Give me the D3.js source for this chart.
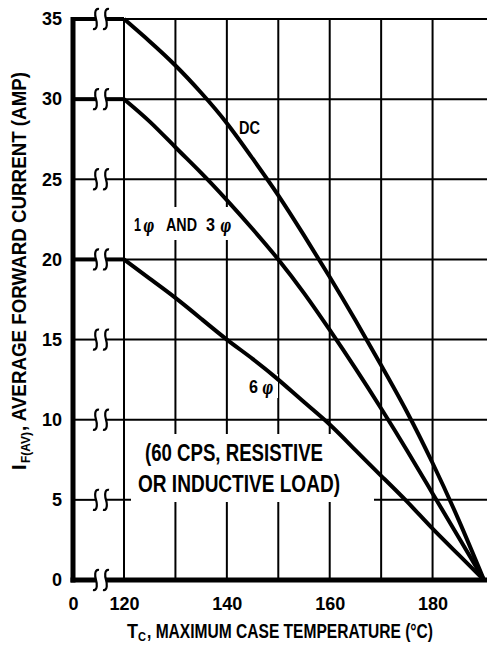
<!DOCTYPE html>
<html>
<head>
<meta charset="utf-8">
<script src="https://cdn.jsdelivr.net/npm/d3@7"></script>
<style>
  body { margin: 0; background: #fff; }
  text { font-family: "Liberation Sans", Arial, sans-serif; font-weight: bold; fill: #000; }
  .phi { font-family: "DejaVu Serif", serif; font-style: italic; }
</style>
</head>
<body>
<div id="chart"></div>
<script>
// case temperature (deg C) and max average forward current (amp)
var temps = [120, 125, 130, 135, 140, 145, 150, 155, 160, 165, 170, 175, 180, 185, 190];
var dcCurrent = [35, 33.6, 32.1, 30.4, 28.5, 26.3, 24.0, 21.5, 18.9, 16.2, 13.4, 10.5, 7.3, 3.8, 0];
var phase13Current = [30, 28.6, 27.0, 25.4, 23.7, 21.9, 20.0, 17.9, 15.6, 13.2, 10.7, 8.1, 5.4, 2.7, 0];
var phase6Current = [20, 18.8, 17.6, 16.3, 15.0, 13.8, 12.5, 11.1, 9.7, 8.1, 6.5, 4.9, 3.2, 1.6, 0];

var xTickValues = [0, 120, 140, 160, 180];
var yTickValues = [0, 5, 10, 15, 20, 25, 30, 35];
var gridTemps = [120, 130, 140, 150, 160, 170, 180];

var svgWidth = 487;
var svgHeight = 645;

var svg = d3.select("#chart")
  .append("svg")
  .attr("width", svgWidth)
  .attr("height", svgHeight);

// x axis is broken between 0 and 120
var x = d3.scaleLinear()
  .domain([0, 120, 190])
  .range([73, 124, 484]);

var y = d3.scaleLinear()
  .domain([0, 35])
  .range([580, 19]);

var breakA = x(0) + 23;
var breakB = x(0) + 33;

function squiggle(cx, cy) {
  return "M" + (cx + 3) + "," + (cy - 10) +
    " C" + (cx - 2) + "," + (cy - 11) + " " + (cx - 1) + "," + (cy - 3) + " " + cx + "," + cy +
    " C" + (cx + 1) + "," + (cy + 3) + " " + (cx + 2) + "," + (cy + 11) + " " + (cx - 3) + "," + (cy + 10);
}

// small helper for squeezed text
function label(px, py, str, size, len, cls) {
  var t = svg.append("text")
    .attr("x", px).attr("y", py)
    .style("font-size", size + "px")
    .text(str);
  if (len) t.attr("textLength", len).attr("lengthAdjust", "spacingAndGlyphs");
  if (cls) t.attr("class", cls);
  return t;
}

// horizontal grid lines, broken near the left axis
var hGrid = svg.append("g");
yTickValues.filter(d => d > 0).forEach(function(v) {
  hGrid.append("line")
    .attr("x1", x(0)).attr("x2", breakA)
    .attr("y1", y(v)).attr("y2", y(v))
    .attr("stroke", "#000").attr("stroke-width", 2);
  hGrid.append("line")
    .attr("x1", breakB).attr("x2", svgWidth)
    .attr("y1", y(v)).attr("y2", y(v))
    .attr("stroke", "#000").attr("stroke-width", 2);
});

// vertical grid lines
svg.append("g").selectAll("line")
  .data(gridTemps)
  .enter()
  .append("line")
  .attr("x1", d => x(d)).attr("x2", d => x(d))
  .attr("y1", y(35)).attr("y2", y(0))
  .attr("stroke", "#000")
  .attr("stroke-width", 2);

// white boxes behind the notes
svg.append("rect").attr("x", 131).attr("y", 207).attr("width", 108).attr("height", 33).attr("fill", "#fff");
svg.append("rect").attr("x", 131).attr("y", 434).attr("width", 243).attr("height", 68).attr("fill", "#fff");
svg.append("rect").attr("x", 246).attr("y", 374).attr("width", 32).attr("height", 24).attr("fill", "#fff");

// flat parts of the curves from 0 to 120
[35, 30, 20].forEach(function(v) {
  svg.append("line")
    .attr("x1", x(0)).attr("x2", breakA)
    .attr("y1", y(v)).attr("y2", y(v))
    .attr("stroke", "#000").attr("stroke-width", 4);
  svg.append("line")
    .attr("x1", breakB).attr("x2", x(120))
    .attr("y1", y(v)).attr("y2", y(v))
    .attr("stroke", "#000").attr("stroke-width", 4);
});

// derating curves
var line = d3.line()
  .x((d, i) => x(temps[i]))
  .y(d => y(d))
  .curve(d3.curveNatural);

[dcCurrent, phase13Current, phase6Current].forEach(function(series) {
  svg.append("path")
    .attr("d", line(series))
    .attr("fill", "none")
    .attr("stroke", "#000")
    .attr("stroke-width", 4)
    .attr("stroke-linejoin", "round");
});

// axes lines
svg.append("line")
  .attr("x1", x(0)).attr("x2", x(0))
  .attr("y1", y(35) - 2).attr("y2", y(0) + 2.5)
  .attr("stroke", "#000").attr("stroke-width", 5);
svg.append("line")
  .attr("x1", x(0) - 2.5).attr("x2", breakA)
  .attr("y1", y(0)).attr("y2", y(0))
  .attr("stroke", "#000").attr("stroke-width", 5);
svg.append("line")
  .attr("x1", breakB).attr("x2", svgWidth)
  .attr("y1", y(0)).attr("y2", y(0))
  .attr("stroke", "#000").attr("stroke-width", 5);

// break marks
var breaks = svg.append("g");
yTickValues.forEach(function(v) {
  breaks.append("path").attr("d", squiggle(breakA, y(v)))
    .attr("fill", "none").attr("stroke", "#000").attr("stroke-width", 2.2);
  breaks.append("path").attr("d", squiggle(breakB, y(v)))
    .attr("fill", "none").attr("stroke", "#000").attr("stroke-width", 2.2);
});

// tick labels
var yAxis = svg.append("g")
  .attr("transform", `translate(${x(0)}, 0)`)
  .call(d3.axisLeft(y).tickValues(yTickValues).tickSize(0).tickPadding(11));
yAxis.select(".domain").remove();
yAxis.selectAll("text")
  .style("font-family", "Liberation Sans, Arial, sans-serif")
  .style("font-size", "18px")
  .style("font-weight", "bold")
  .attr("fill", "#000");

var xAxis = svg.append("g")
  .attr("transform", `translate(0, ${y(0)})`)
  .call(d3.axisBottom(x).tickValues(xTickValues).tickSize(0).tickPadding(17));
xAxis.select(".domain").remove();
xAxis.selectAll("text")
  .style("font-family", "Liberation Sans, Arial, sans-serif")
  .style("font-size", "18px")
  .style("font-weight", "bold")
  .attr("fill", "#000");

// curve labels
label(239, 134, "DC", 18, 21);

label(134, 231, "1", 18, 7);
label(143, 232, "\u03c6", 18, 11, "phi");
label(166, 231, "AND", 18, 31);
label(206, 231, "3", 18, 9);
label(220, 232, "\u03c6", 18, 11, "phi");

label(249, 393, "6", 18, 9);
label(262, 394, "\u03c6", 18, 11, "phi");

// note
label(145, 461, "(60 CPS, RESISTIVE", 23, 178);
label(138, 492, "OR INDUCTIVE LOAD)", 23, 202);

// axis titles
label(127, 638, "T", 20, 11);
label(138, 641, "C", 12, 8);
label(147, 638, ", MAXIMUM CASE TEMPERATURE (\u00b0C)", 20, 286);

svg.append("text")
  .attr("transform", "translate(26, 470) rotate(-90)")
  .style("font-size", "20px")
  .text("I");
svg.append("text")
  .attr("transform", "translate(30, 463) rotate(-90)")
  .attr("textLength", 31).attr("lengthAdjust", "spacingAndGlyphs")
  .style("font-size", "12px")
  .text("F(AV)");
svg.append("text")
  .attr("transform", "translate(26, 431) rotate(-90)")
  .attr("textLength", 359).attr("lengthAdjust", "spacingAndGlyphs")
  .style("font-size", "20px")
  .text(", AVERAGE FORWARD CURRENT (AMP)");
</script>
</body>
</html>
